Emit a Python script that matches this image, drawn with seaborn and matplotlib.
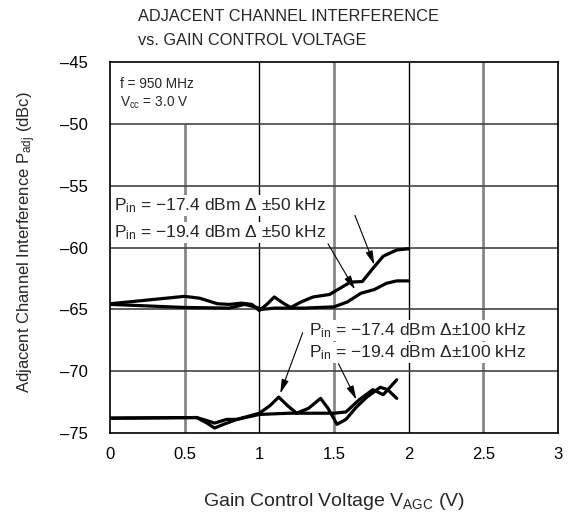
import matplotlib
matplotlib.use("Agg")
import matplotlib.pyplot as plt
import pandas as pd
import seaborn as sns

# values (V_AGC in V, P_adj in dBc)
v_50k_174 = [0, 0.25, 0.5, 0.6, 0.72, 0.8, 0.88, 0.95, 1.0, 1.05, 1.1, 1.16, 1.21,
             1.28, 1.36, 1.47, 1.54, 1.61, 1.69, 1.76, 1.83, 1.92, 2.0]
p_50k_174 = [-64.55, -64.25, -63.95, -64.1, -64.55, -64.6, -64.5, -64.6, -65.1, -64.6,
             -64.0, -64.5, -64.85, -64.4, -64.0, -63.8, -63.3, -62.8, -62.75, -61.7,
             -60.7, -60.2, -60.1]

v_50k_194 = [0, 0.5, 0.8, 0.9, 0.97, 1.02, 1.1, 1.3, 1.5, 1.59, 1.68, 1.77, 1.85, 1.92, 2.0]
p_50k_194 = [-64.6, -64.85, -64.9, -64.6, -64.8, -65.0, -64.9, -64.9, -64.8, -64.4,
             -63.7, -63.4, -62.9, -62.7, -62.7]

v_100k_174 = [0, 0.58, 0.65, 0.70, 0.76, 0.85, 1.0, 1.07, 1.13, 1.19, 1.25, 1.33, 1.41,
              1.46, 1.52, 1.58, 1.65, 1.72, 1.81, 1.86, 1.92]
p_100k_174 = [-73.8, -73.75, -74.2, -74.6, -74.3, -73.9, -73.4, -72.8, -72.1, -72.8,
              -73.4, -73.0, -72.2, -73.0, -74.3, -73.9, -72.9, -72.1, -71.3, -71.5, -72.2]

v_100k_194 = [0, 0.58, 0.65, 0.70, 0.78, 0.85, 1.0, 1.2, 1.5, 1.58, 1.67, 1.76, 1.83, 1.92]
p_100k_194 = [-73.8, -73.75, -74.0, -74.2, -73.9, -73.9, -73.5, -73.4, -73.4, -73.3,
              -72.3, -71.5, -71.9, -70.7]

x_ticks = [0, 0.5, 1, 1.5, 2, 2.5, 3]
y_ticks = [-75, -70, -65, -60, -55, -50, -45]

sns.set_theme(style="white")
plt.rcParams["font.family"] = ["Liberation Sans", "DejaVu Sans"]
plt.rcParams["mathtext.fontset"] = "custom"
plt.rcParams["mathtext.rm"] = "Liberation Sans"
plt.rcParams["mathtext.it"] = "Liberation Sans:italic"
plt.rcParams["mathtext.bf"] = "Liberation Sans:bold"

frames = []
for name, v, p in [("a", v_50k_174, p_50k_174), ("b", v_50k_194, p_50k_194),
                   ("c", v_100k_174, p_100k_174), ("d", v_100k_194, p_100k_194)]:
    frames.append(pd.DataFrame({"v": v, "p": p, "curve": name}))
df = pd.concat(frames, ignore_index=True)

fig = plt.figure(figsize=(5.74, 5.16), dpi=100)
ax = fig.add_axes([110 / 574, 1 - 433 / 516, 448 / 574, 371 / 516])

# grid: half-volt lines grey and wide, whole volts thin black
for x in [0.5, 1.5, 2.5]:
    top = -50 if x == 0.5 else -45
    ax.vlines(x, -75, top, color="#888888", lw=2.0, zorder=1)
for x in [1, 2]:
    ax.vlines(x, -75, -45, color="black", lw=1.0, zorder=1)
for y in [-70, -65, -60, -55, -50]:
    ax.axhline(y, color="#444444", lw=1.2, zorder=1)

sns.lineplot(data=df, x="v", y="p", hue="curve", units="curve", estimator=None,
             sort=False, palette=["black"] * 4, linewidth=2.3, legend=False,
             ax=ax, zorder=3)

ax.set_xlim(0, 3)
ax.set_ylim(-75, -45)
ax.set_xticks(x_ticks)
ax.set_xticklabels([f"{t:g}" for t in x_ticks])
ax.set_yticks(y_ticks)
ax.set_yticklabels([f"\u2013{abs(t)}" for t in y_ticks])
ax.tick_params(axis="x", length=0, labelsize=12, pad=10, colors="black")
ax.tick_params(axis="y", length=0, labelsize=12, pad=16, colors="black")
for s in ax.spines.values():
    s.set_color("black")
    s.set_linewidth(1.2)

ax.set_xlabel(r"Gain Control Voltage V$_{\mathrm{AGC}}$ (V)", fontsize=14)
ax.xaxis.set_label_coords(0.5, -0.155)
ax.set_ylabel(r"Adjacent Channel Interference P$_{\mathrm{adj}}$ (dBc)", fontsize=12)
ax.yaxis.set_label_coords(-0.16, 0.515)

fig.text(138 / 574, 1 - 9 / 516, "ADJACENT CHANNEL INTERFERENCE\nvs. GAIN CONTROL VOLTAGE",
         ha="left", va="top", fontsize=11.75, linespacing=1.75)

wbox = dict(facecolor="white", edgecolor="none", pad=1.0)
ax.text(0.065, -46.2, "f = 950 MHz\nV$_{\\mathrm{cc}}$ = 3.0 V", ha="left", va="top",
        fontsize=9.8, linespacing=1.35, zorder=4)

ax.text(0.03, -56.6, "P$_{\\mathrm{in}}$ = \u221217.4 dBm $\\mathit{\\Delta}$ \u00b150 kHz",
        ha="left", va="center", fontsize=12.5, bbox=wbox, zorder=4)
ax.text(0.03, -58.8, "P$_{\\mathrm{in}}$ = \u221219.4 dBm $\\mathit{\\Delta}$ \u00b150 kHz",
        ha="left", va="center", fontsize=12.5, bbox=wbox, zorder=4)
ax.text(1.33, -66.7, "P$_{\\mathrm{in}}$ = \u221217.4 dBm $\\mathit{\\Delta}$\u00b1100 kHz",
        ha="left", va="center", fontsize=12.5, bbox=wbox, zorder=4)
ax.text(1.33, -68.5, "P$_{\\mathrm{in}}$ = \u221219.4 dBm $\\mathit{\\Delta}$\u00b1100 kHz",
        ha="left", va="center", fontsize=12.5, bbox=wbox, zorder=4)

arrow = dict(arrowstyle="-|>,head_length=0.7,head_width=0.18", color="black", lw=0.8,
             shrinkA=0, shrinkB=0)
ax.annotate("", xy=(1.77, -61.4), xytext=(1.64, -57.4), arrowprops=arrow, zorder=5)
ax.annotate("", xy=(1.64, -63.4), xytext=(1.46, -59.7), arrowprops=arrow, zorder=5)
ax.annotate("", xy=(1.14, -71.8), xytext=(1.29, -66.9), arrowprops=arrow, zorder=5)
ax.annotate("", xy=(1.65, -72.3), xytext=(1.53, -69.4), arrowprops=arrow, zorder=5)

fig.savefig("out.png", dpi=100)
